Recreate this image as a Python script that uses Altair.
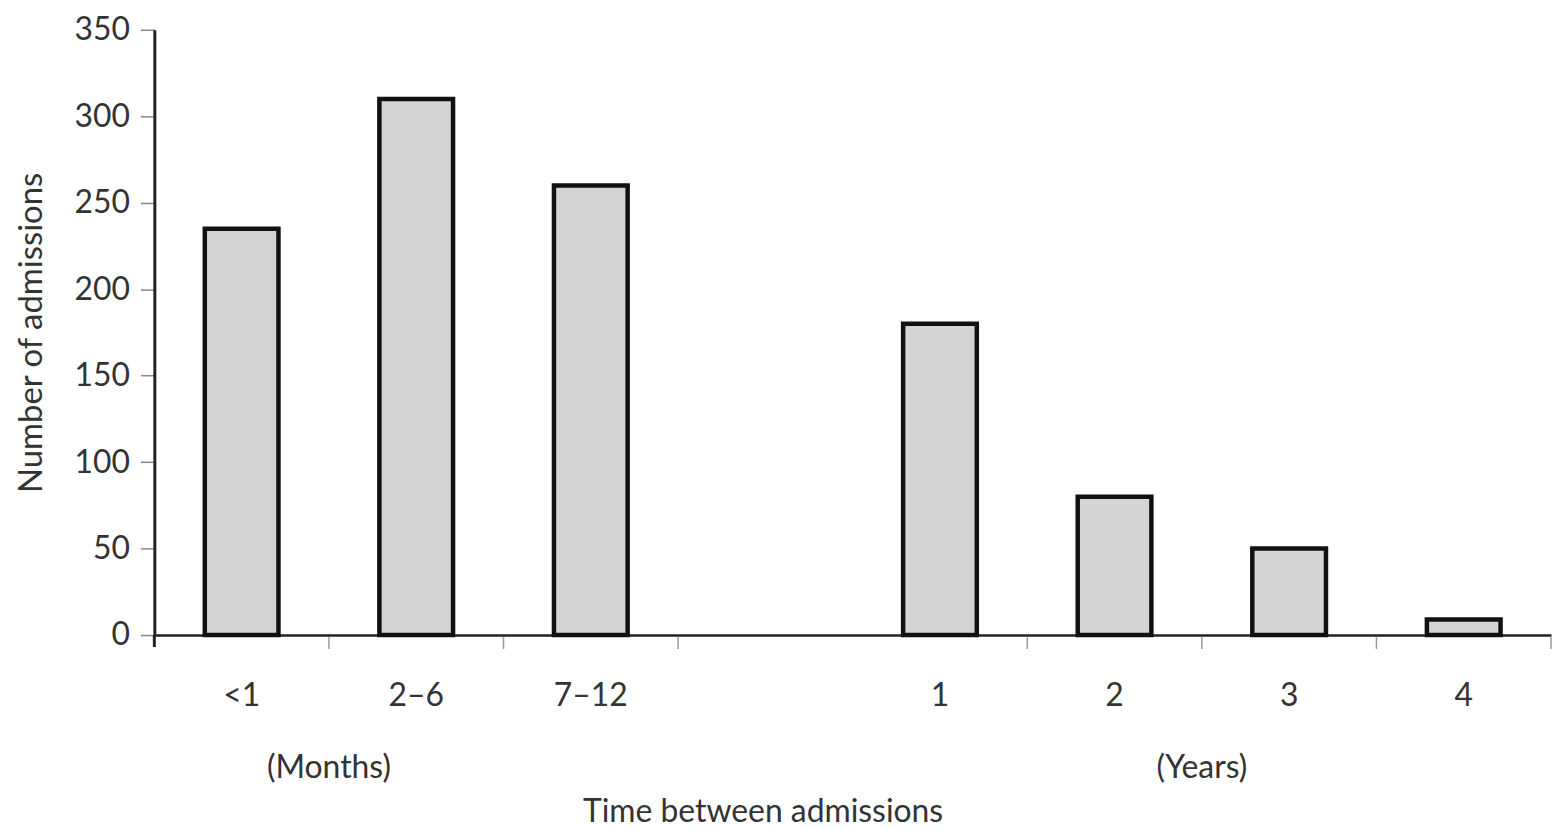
import altair as alt
import pandas as pd

# ---- data ----
categories = ["<1", "2–6", "7–12", " ", "1", "2", "3", "4"]
admissions = [235, 310, 260, None, 180, 80, 50, 9]
tick_categories = ["2–6", "7–12", " ", "2", "3", "4"]
unit_labels = ["(Months)", "(Years)"]
unit_anchor = ["2–6", "3"]
y_ticks = [0, 50, 100, 150, 200, 250, 300, 350]

W, H = 1403, 608
FONT = "Lato"
TEXT = "#333333"
AXIS = "#222222"

bars_df = pd.DataFrame({"cat": categories, "n": admissions})
ticks_df = pd.DataFrame({"cat": tick_categories})
units_df = pd.DataFrame({"cat": unit_anchor, "label": unit_labels})
one_df = pd.DataFrame({"k": [0]})

xscale = alt.Scale(domain=categories, paddingInner=0, paddingOuter=0)

bars = alt.Chart(bars_df).mark_bar(
    size=74, fill="#d4d4d4", stroke="#111111", strokeWidth=4.5
).encode(
    x=alt.X(
        "cat:N", scale=xscale, sort=categories,
        axis=alt.Axis(
            title="Time between admissions", ticks=False, labelAngle=0,
            labelPadding=46, titlePadding=85, titleX=611, titleAnchor="middle",
            domainColor=AXIS, domainWidth=2.5,
            labelFontSize=32, titleFontSize=32, labelColor=TEXT, titleColor=TEXT,
            labelFont=FONT, titleFont=FONT, titleFontWeight="normal",
        ),
    ),
    y=alt.Y(
        "n:Q", scale=alt.Scale(domain=[0, 350], nice=False),
        axis=alt.Axis(
            values=y_ticks, title="Number of admissions", tickSize=14,
            tickColor="#888888", tickWidth=1.5, domainColor=AXIS, domainWidth=3,
            labelPadding=11, titlePadding=26, grid=False,
            labelFontSize=32, titleFontSize=33, labelColor=TEXT, titleColor=TEXT,
            labelFont=FONT, titleFont=FONT, titleFontWeight="normal",
        ),
    ),
)

xticks = alt.Chart(ticks_df).mark_rule(color="#999999", strokeWidth=1.5).encode(
    x=alt.X("cat:N", scale=xscale, sort=categories, bandPosition=0),
    y=alt.value(H + 2),
    y2=alt.value(H + 14),
)

end_tick = alt.Chart(one_df).mark_rule(color="#999999", strokeWidth=1.5).encode(
    x=alt.value(W), y=alt.value(H + 2), y2=alt.value(H + 14)
)

y_ext = alt.Chart(one_df).mark_rule(color=AXIS, strokeWidth=3).encode(
    x=alt.value(0), y=alt.value(H), y2=alt.value(H + 12)
)

units = alt.Chart(units_df).mark_text(
    fontSize=32, font=FONT, color=TEXT, baseline="middle"
).encode(
    x=alt.X("cat:N", scale=xscale, sort=categories, bandPosition=0),
    y=alt.value(H + 134),
    text="label:N",
)

chart = alt.layer(bars, xticks, end_tick, y_ext, units).properties(
    width=W, height=H,
    background="white",
    autosize=alt.AutoSizeParams(type="none"),
    padding={"left": 147, "top": 20, "right": 4, "bottom": 200},
).configure_view(stroke="transparent", strokeWidth=0)

chart.save("out.html", embed_options={"renderer": "svg", "actions": False})
